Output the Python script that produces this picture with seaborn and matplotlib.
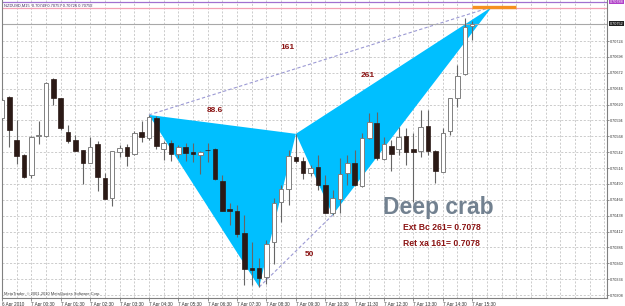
import numpy as np
import matplotlib
matplotlib.use("Agg")
import matplotlib.pyplot as plt
import seaborn as sns

# ---------------- data ----------------
opens = [0.70598, 0.70632, 0.70562, 0.70537, 0.70505, 0.70568, 0.70568, 0.70662, 0.70631, 0.70575,
         0.70562, 0.70546, 0.70524, 0.70555, 0.70500, 0.70467, 0.70542, 0.70550, 0.70539, 0.70575,
         0.70565, 0.70598, 0.70547, 0.70557, 0.70539, 0.70550, 0.70542, 0.70537, 0.70546, 0.70547,
         0.70495, 0.70449, 0.70446, 0.70410, 0.70352, 0.70352, 0.70337, 0.70395, 0.70460, 0.70482,
         0.70534, 0.70528, 0.70508, 0.70518, 0.70488, 0.70442, 0.70465, 0.70508, 0.70524, 0.70487,
         0.70565, 0.70590, 0.70531, 0.70552, 0.70547, 0.70568, 0.70547, 0.70544, 0.70585, 0.70544,
         0.70509, 0.70577, 0.70631, 0.70670, 0.70749]
highs = [0.70631, 0.70634, 0.70595, 0.70539, 0.70568, 0.70593, 0.70657, 0.70663, 0.70631, 0.70586,
         0.70570, 0.70546, 0.70567, 0.70560, 0.70508, 0.70544, 0.70554, 0.70555, 0.70577, 0.70593,
         0.70603, 0.70601, 0.70560, 0.70562, 0.70554, 0.70557, 0.70557, 0.70544, 0.70557, 0.70549,
         0.70505, 0.70459, 0.70455, 0.70439, 0.70395, 0.70369, 0.70398, 0.70467, 0.70488, 0.70546,
         0.70572, 0.70534, 0.70521, 0.70537, 0.70505, 0.70480, 0.70532, 0.70537, 0.70546, 0.70573,
         0.70606, 0.70608, 0.70567, 0.70562, 0.70583, 0.70581, 0.70573, 0.70611, 0.70611, 0.70546,
         0.70581, 0.70631, 0.70685, 0.70762, 0.70757]
lows = [0.70595, 0.70550, 0.70523, 0.70500, 0.70500, 0.70555, 0.70567, 0.70619, 0.70578, 0.70557,
        0.70544, 0.70490, 0.70524, 0.70478, 0.70465, 0.70454, 0.70534, 0.70519, 0.70537, 0.70559,
        0.70562, 0.70547, 0.70529, 0.70528, 0.70532, 0.70528, 0.70526, 0.70506, 0.70526, 0.70496,
        0.70446, 0.70423, 0.70403, 0.70324, 0.70324, 0.70321, 0.70326, 0.70359, 0.70428, 0.70455,
        0.70524, 0.70498, 0.70503, 0.70480, 0.70442, 0.70439, 0.70442, 0.70488, 0.70487, 0.70485,
        0.70564, 0.70529, 0.70529, 0.70511, 0.70537, 0.70521, 0.70460, 0.70534, 0.70537, 0.70491,
        0.70509, 0.70570, 0.70616, 0.70668, 0.70726]
closes = [0.70627, 0.70578, 0.70536, 0.70501, 0.70567, 0.70570, 0.70655, 0.70631, 0.70581, 0.70560,
          0.70544, 0.70524, 0.70550, 0.70501, 0.70465, 0.70544, 0.70549, 0.70536, 0.70573, 0.70567,
          0.70600, 0.70552, 0.70557, 0.70539, 0.70550, 0.70541, 0.70539, 0.70542, 0.70545, 0.70498,
          0.70446, 0.70446, 0.70408, 0.70351, 0.70349, 0.70336, 0.70392, 0.70459, 0.70482, 0.70536,
          0.70528, 0.70508, 0.70516, 0.70488, 0.70442, 0.70467, 0.70506, 0.70524, 0.70488, 0.70565,
          0.70591, 0.70532, 0.70555, 0.70539, 0.70567, 0.70542, 0.70542, 0.70583, 0.70544, 0.70511,
          0.70573, 0.70631, 0.70667, 0.70747, 0.70752]

# XABCD pattern points (bar index, price)
pattern_bar = [20, 35, 40, 45, 66.7]
pattern_price = [0.70603, 0.70321, 0.70572, 0.70439, 0.70780]
ratio_labels = ["88.6", "50", "261", "161"]

target_price = 0.70780
target_bars = [64, 70]
level_purple = 0.70788
level_pink = 0.70778
bid_price = 0.70752

y_levels = [0.70724 - k * 0.00026 for k in range(17)]
x_tick_bars = list(range(0, 65, 4))
x_tick_labels = ["6 Apr 2010"] + ["7 Apr %02d:30" % h for h in range(0, 16)]

# ---------------- figure ----------------
sns.set_style("white")
plt.rcParams["font.family"] = ["Liberation Sans", "DejaVu Sans"]

fig = plt.figure(figsize=(6.25, 3.06), dpi=100)
ax = fig.add_axes([2 / 625, 8 / 306, 605 / 625, 298 / 306])
ax.set_facecolor("white")

n = len(opens)
xs = np.arange(n)
o = np.array(opens); c = np.array(closes); h = np.array(highs); l = np.array(lows)

XMIN, XMAX = 0.04, 82.35
YMIN, YMAX = 0.703031, 0.707912
ax.set_xlim(XMIN, XMAX)
ax.set_ylim(YMIN, YMAX)

grid_kw = dict(color="#c4c4c4", lw=0.6, ls=(0, (2.5, 2)), zorder=0)
for gx in range(0, 83, 2):
    ax.axvline(gx, **grid_kw)
for gy in y_levels:
    ax.axhline(gy, **grid_kw)

# pattern triangles
X, A, B, C, D = list(zip(pattern_bar, pattern_price))
ax.fill([X[0], A[0], B[0]], [X[1], A[1], B[1]], color="#00bfff", lw=0, zorder=1)
ax.fill([B[0], C[0], D[0]], [B[1], C[1], D[1]], color="#00bfff", lw=0, zorder=1)

# dashed connectors X-D and A-C
for p1, p2 in [(X, D), (A, C)]:
    sns.lineplot(x=[p1[0], p2[0]], y=[p1[1], p2[1]], ax=ax, color="#9c9ad4",
                 lw=0.8, dashes=False, linestyle=(0, (3, 2)), zorder=2)

# candles
up = c >= o
ax.vlines(xs, l, h, color="#666666", lw=0.8, zorder=3)
body_h = np.maximum(np.abs(c - o), 0.000012)
ax.bar(xs[up], body_h[up], bottom=np.minimum(o, c)[up], width=0.62,
       color="white", edgecolor="#808080", lw=0.7, zorder=4)
ax.bar(xs[~up], body_h[~up], bottom=np.minimum(o, c)[~up], width=0.62,
       color="#2b1a16", edgecolor="#2b1a16", lw=0.5, zorder=4)

# top levels and target
ax.axhline(level_purple, color="#a070d0", lw=0.9, zorder=2)
ax.axhline(level_pink, color="#f4a0b4", lw=0.9, zorder=2)
ax.hlines(target_price, target_bars[0], target_bars[1], color="#f59020", lw=2.4, zorder=3)
ax.axhline(bid_price, color="#a8a8a8", lw=0.8, zorder=2)

# ratio labels
red = "#8b1414"
ax.text(29.0, 0.70611, ratio_labels[0], color=red, fontsize=6, fontweight="bold", ha="center", va="center", zorder=6)
ax.text(41.9, 0.70374, ratio_labels[1], color=red, fontsize=6, fontweight="bold", ha="center", va="center", zorder=6)
ax.text(49.8, 0.70668, ratio_labels[2], color=red, fontsize=6, fontweight="bold", ha="center", va="center", zorder=6)
ax.text(38.9, 0.70714, ratio_labels[3], color=red, fontsize=6, fontweight="bold", ha="center", va="center", zorder=6)

ax.text(51.8, 0.70452, "Deep crab", color="#728190", fontsize=16.5, fontweight="bold",
        ha="left", va="center", zorder=6)
ax.text(54.6, 0.70418, "Ext Bc 261= %.4f" % target_price, color=red, fontsize=6.2,
        fontweight="bold", ha="left", va="center", zorder=6)
ax.text(54.6, 0.70393, "Ret xa 161= %.4f" % target_price, color=red, fontsize=6.2,
        fontweight="bold", ha="left", va="center", zorder=6)

ax.text(0.3, 0.70782, "NZDUSD,M15  %.5f %.5f %.5f %.5f" % (o[-1], h[-1], l[-1], c[-1]),
        color="#402a60", fontsize=2.9, ha="left", va="center", zorder=6)
ax.text(0.3, 0.70310, "MetaTrader, \u00a9 2001-2010 MetaQuotes Software Corp.",
        color="#404040", fontsize=2.9, ha="left", va="center", zorder=6)

# axes styling
for side in ["left", "right", "bottom"]:
    ax.spines[side].set_color("#808080")
    ax.spines[side].set_linewidth(0.8)
ax.spines["top"].set_visible(False)

ax.yaxis.tick_right()
ax.set_yticks(y_levels)
ax.set_yticklabels(["%.5f" % v for v in y_levels])
ax.tick_params(axis="y", right=True, length=1.6, width=0.6, color="#808080",
               labelsize=2.7, pad=0.5, labelcolor="#303030")
ax.set_xticks(x_tick_bars)
ax.set_xticklabels(x_tick_labels, ha="left")
ax.tick_params(axis="x", bottom=True, length=2, width=0.6, color="#808080",
               labelsize=3.3, pad=0.6, labelcolor="#303030")
ax.set_xlabel(""); ax.set_ylabel("")

# right side price boxes
ax.text(1.004, (level_purple - YMIN) / (YMAX - YMIN), "%.5f" % level_purple, transform=ax.transAxes,
        fontsize=2.7, color="white", ha="left", va="center",
        bbox=dict(boxstyle="square,pad=0.12", fc="#b040c8", ec="none"), clip_on=False)
ax.text(1.004, (bid_price - YMIN) / (YMAX - YMIN), "%.5f" % bid_price, transform=ax.transAxes,
        fontsize=2.7, color="white", ha="left", va="center",
        bbox=dict(boxstyle="square,pad=0.12", fc="#202020", ec="none"), clip_on=False)

fig.savefig("out.png", dpi=100)
